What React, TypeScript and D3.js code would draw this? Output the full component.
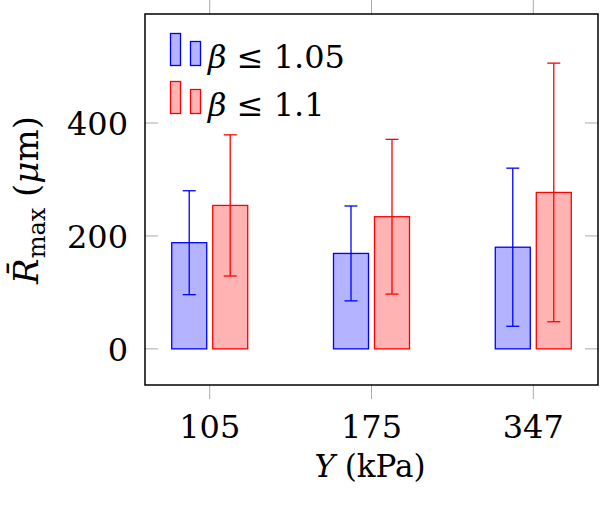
import React, { useEffect, useRef } from 'react';
import * as d3 from 'd3';

// data
const categories = ['105', '175', '347'];
const meanLow = [188, 169, 180];   // beta <= 1.05
const errLow = [92, 84, 140];
const meanHigh = [254, 234, 277];  // beta <= 1.1
const errHigh = [125, 137, 229];
const yTicks = [0, 200, 400];

const series = [
  { name: '1.05', mean: meanLow, err: errLow, fill: '#b3b3ff', stroke: '#0000ff', shift: -20.5 },
  { name: '1.1', mean: meanHigh, err: errHigh, fill: '#ffb3b3', stroke: '#ff0000', shift: 20.5 },
];

const App: React.FC = () => {
  const ref = useRef<SVGSVGElement>(null);

  useEffect(() => {
    if (!ref.current) return;
    const W = 600, H = 508;
    const left = 145, right = 598, top = 14, bottom = 385;
    const font = "'DejaVu Serif', serif";

    const svg = d3.select(ref.current);
    svg.selectAll('*').remove();

    const x = d3.scalePoint<string>().domain(categories).range([left, right]).padding(0.4);
    const y = d3.scaleLinear().domain([-64, 593]).range([bottom, top]);
    const barW = 35;

    // tick marks
    const g = svg.append('g');
    categories.forEach(c => {
      g.append('line').attr('x1', x(c)!).attr('x2', x(c)!).attr('y1', top - 14).attr('y2', top)
        .attr('stroke', '#aaaaaa').attr('stroke-width', 1);
      g.append('line').attr('x1', x(c)!).attr('x2', x(c)!).attr('y1', bottom).attr('y2', bottom + 14)
        .attr('stroke', '#aaaaaa').attr('stroke-width', 1);
    });
    yTicks.forEach(t => {
      g.append('line').attr('x1', left).attr('x2', left + 13).attr('y1', y(t)).attr('y2', y(t))
        .attr('stroke', '#aaaaaa').attr('stroke-width', 1);
      g.append('line').attr('x1', right - 13).attr('x2', right).attr('y1', y(t)).attr('y2', y(t))
        .attr('stroke', '#aaaaaa').attr('stroke-width', 1);
    });

    // bars
    series.forEach(s => {
      const sg = svg.append('g');
      sg.selectAll('rect').data(s.mean).enter().append('rect')
        .attr('x', (d, i) => x(categories[i])! + s.shift - barW / 2)
        .attr('y', d => y(d))
        .attr('width', barW)
        .attr('height', d => y(0) - y(d))
        .attr('fill', s.fill).attr('stroke', s.stroke).attr('stroke-width', 1.3);
      s.mean.forEach((m, i) => {
        const cx = x(categories[i])! + s.shift;
        const lo = y(m - s.err[i]), hi = y(m + s.err[i]);
        sg.append('line').attr('x1', cx).attr('x2', cx).attr('y1', lo).attr('y2', hi)
          .attr('stroke', s.stroke).attr('stroke-width', 1.3);
        [lo, hi].forEach(v => sg.append('line').attr('x1', cx - 6.5).attr('x2', cx + 6.5)
          .attr('y1', v).attr('y2', v).attr('stroke', s.stroke).attr('stroke-width', 1.3));
      });
    });

    // frame
    svg.append('rect').attr('x', left).attr('y', top).attr('width', right - left).attr('height', bottom - top)
      .attr('fill', 'none').attr('stroke', '#000').attr('stroke-width', 1.5);

    // tick labels
    svg.append('g').selectAll('text').data(yTicks).enter().append('text')
      .attr('x', 128).attr('y', d => y(d) + 12).attr('text-anchor', 'end')
      .attr('font-family', font).attr('font-size', 32).text(d => d);
    svg.append('g').selectAll('text').data(categories).enter().append('text')
      .attr('x', d => x(d)!).attr('y', 438).attr('text-anchor', 'middle')
      .attr('font-family', font).attr('font-size', 32).text(d => d);

    // axis titles
    const xt = svg.append('text').attr('x', 370).attr('y', 477).attr('text-anchor', 'middle')
      .attr('font-family', font).attr('font-size', 31);
    xt.append('tspan').attr('font-style', 'italic').text('Y');
    xt.append('tspan').text(' (kPa)');

    const yt = svg.append('text').attr('transform', 'translate(38,200) rotate(-90)')
      .attr('text-anchor', 'middle').attr('font-family', font).attr('font-size', 34);
    yt.append('tspan').attr('font-style', 'italic').text('R\u0304');
    yt.append('tspan').attr('font-size', 24).attr('dy', 7).text('max');
    yt.append('tspan').attr('dy', -7).text(' (');
    yt.append('tspan').attr('font-style', 'italic').text('\u03bc');
    yt.append('tspan').text('m)');

    // legend
    const legend = svg.append('g');
    series.forEach((s, i) => {
      const oy = i * 48;
      legend.append('rect').attr('x', 170.5).attr('y', 33.5 + oy).attr('width', 10).attr('height', 32)
        .attr('fill', s.fill).attr('stroke', s.stroke).attr('stroke-width', 1.3);
      legend.append('rect').attr('x', 190.5).attr('y', 41.5 + oy).attr('width', 10).attr('height', 24)
        .attr('fill', s.fill).attr('stroke', s.stroke).attr('stroke-width', 1.3);
      const t = legend.append('text').attr('x', 208).attr('y', 68 + oy)
        .attr('font-family', font).attr('font-size', 32);
      t.append('tspan').attr('font-style', 'italic').text('\u03b2');
      t.append('tspan').text(' \u2264 ' + s.name);
    });

    svg.attr('width', W).attr('height', H);
  }, []);

  return (
    <svg ref={ref} width={600} height={508}
      style={{ position: 'absolute', left: 0, top: 0, background: '#fff' }} />
  );
};

export default App;
